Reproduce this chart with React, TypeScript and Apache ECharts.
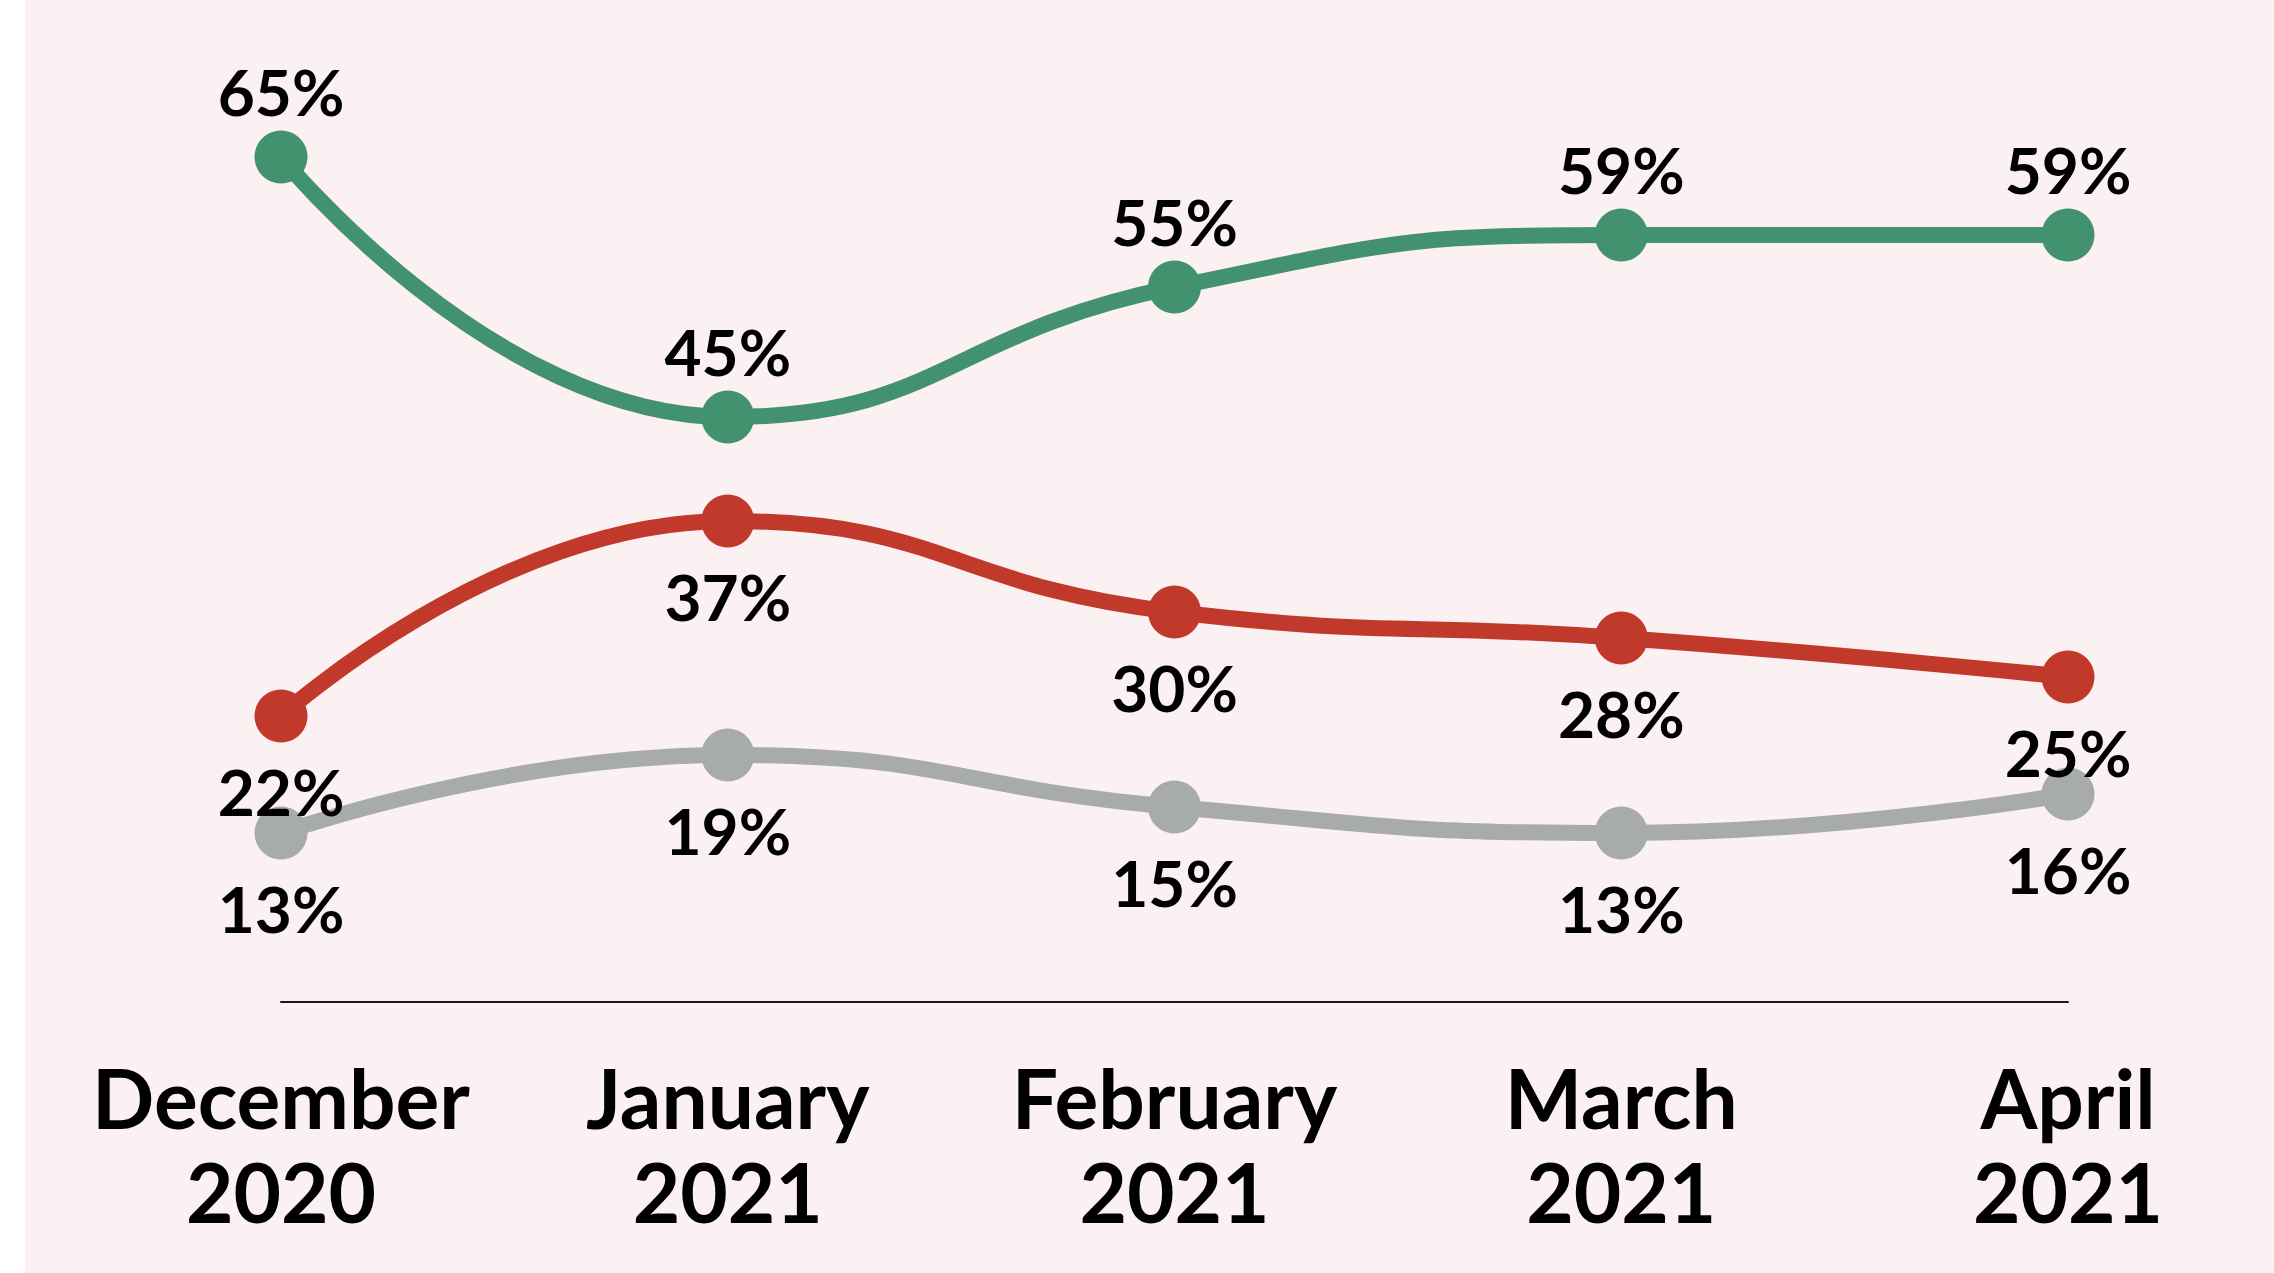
import React, { useEffect, useRef } from "react";
import * as echarts from "echarts";

const categories = ["December\n2020", "January\n2021", "February\n2021", "March\n2021", "April\n2021"];
const greenValues = [65, 45, 55, 59, 59];
const redValues = [22, 37, 30, 28, 25];
const greyValues = [13, 19, 15, 13, 16];

const GREEN = "#42916F";
const RED = "#C0392B";
const GREY = "#A7ABA9";
const BG = "#FBF0F2";
const FONT = "Lato";

function makeSeries(name: string, data: number[], color: string, pos: "top" | "bottom", dist: number, z: number) {
  return {
    name,
    type: "line",
    data,
    smooth: 0.5,
    symbol: "circle",
    symbolSize: 53,
    z,
    lineStyle: { color, width: 16 },
    itemStyle: { color },
    label: {
      show: true,
      position: pos,
      distance: dist,
      formatter: "{c}%",
      color: "#000",
      fontFamily: FONT,
      fontWeight: "bold",
      fontSize: 64,
    },
  };
}

export default function App() {
  const ref = useRef<HTMLDivElement>(null);
  useEffect(() => {
    if (!ref.current) return;
    const chart = echarts.init(ref.current, undefined, { renderer: "svg" });
    chart.setOption({
      animation: false,
      backgroundColor: BG,
      grid: { left: 256, right: 206, top: 92, bottom: 271, containLabel: false },
      xAxis: {
        type: "category",
        data: categories,
        boundaryGap: false,
        axisLine: { show: true, lineStyle: { color: "#1a1a1a", width: 2 } },
        axisTick: { show: false },
        axisLabel: {
          color: "#000",
          fontFamily: FONT,
          fontWeight: "bold",
          fontSize: 82,
          lineHeight: 94,
          margin: 48,
          interval: 0,
          align: "center",
        },
        splitLine: { show: false },
      },
      yAxis: {
        type: "value",
        min: 0,
        max: 70,
        show: false,
        splitLine: { show: false },
      },
      series: [
        makeSeries("grey", greyValues, GREY, "bottom", 17, 2),
        makeSeries("red", redValues, RED, "bottom", 17, 3),
        makeSeries("green", greenValues, GREEN, "top", 7, 4),
      ],
    });
    return () => chart.dispose();
  }, []);
  return (
    <div style={{ position: "fixed", left: 0, top: 0, width: 2274, height: 1273, background: "#ffffff" }}>
      <div ref={ref} style={{ position: "absolute", left: 25, top: 0, width: 2249, height: 1273 }} />
    </div>
  );
}
